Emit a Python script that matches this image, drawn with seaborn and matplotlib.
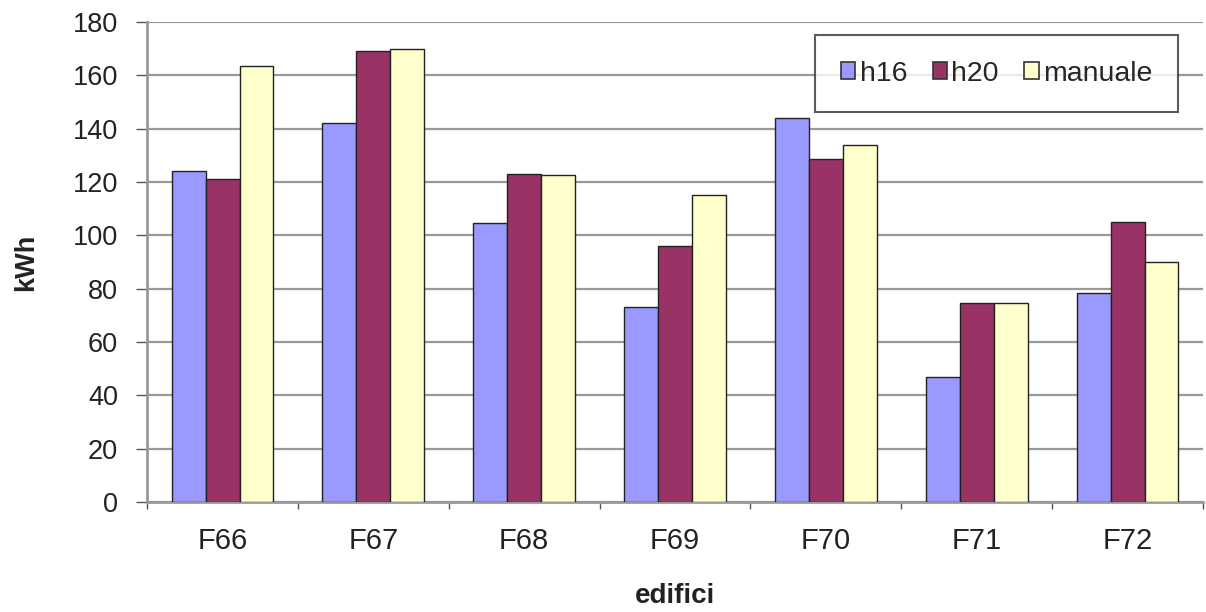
import pandas as pd
import matplotlib.pyplot as plt
import seaborn as sns
from matplotlib.patches import Patch
from matplotlib.ticker import FixedLocator

# Values (kWh per building)
edifici = ["F66", "F67", "F68", "F69", "F70", "F71", "F72"]
h16 = [124, 142, 104.5, 73, 144, 47, 78.5]
h20 = [121, 169, 123, 96, 128.5, 74.5, 105]
manuale = [163.5, 170, 122.5, 115, 134, 74.5, 90]
series = ["h16", "h20", "manuale"]
colors = ["#9999FF", "#993366", "#FFFFCC"]

df = pd.DataFrame({"edifici": edifici, "h16": h16, "h20": h20, "manuale": manuale})
df_long = df.melt(id_vars="edifici", var_name="serie", value_name="kWh")

sns.set_style("white")
plt.rcParams["font.family"] = ["Liberation Sans", "DejaVu Sans"]

fig = plt.figure(figsize=(12.06, 6.12), dpi=100)
ax = fig.add_axes([0.122, 0.18, 0.8755, 0.784])

sns.barplot(data=df_long, x="edifici", y="kWh", hue="serie", hue_order=series,
            palette=colors, width=0.675, edgecolor="#222222", linewidth=1.0,
            saturation=1, ax=ax, legend=False, zorder=3)

ax.set_ylim(0, 180)
ax.set_xlim(-0.5, len(edifici) - 0.5)
ax.set_yticks(range(0, 181, 20))
ax.yaxis.grid(True, color="#999999", linewidth=1.6, zorder=0)
ax.set_axisbelow(True)

for side in ["top", "right"]:
    ax.spines[side].set_visible(False)
ax.spines["left"].set_color("#999999")
ax.spines["left"].set_linewidth(2)
ax.spines["bottom"].set_color("#999999")
ax.spines["bottom"].set_linewidth(2)

ax.tick_params(axis="y", length=8, width=1, color="#555555", labelsize=19.5,
               labelcolor="#222222", pad=13, left=True)
ax.tick_params(axis="x", length=0, labelsize=21, labelcolor="#222222", pad=18)
ax.xaxis.set_minor_locator(FixedLocator([i + 0.5 for i in range(-1, len(edifici))]))
ax.tick_params(axis="x", which="minor", length=5, width=1, color="#555555", bottom=True)

ax.set_xlabel("edifici", fontsize=20, fontweight="bold", labelpad=20, color="#222222")
ax.set_ylabel("kWh", fontsize=19.5, fontweight="bold", labelpad=24, color="#222222")

handles = [Patch(facecolor=c, edgecolor="#333333", linewidth=1.2) for c in colors]
leg = ax.legend(handles, series, loc="upper left", bbox_to_anchor=(0.633, 0.973),
                ncol=3, fontsize=20.5, frameon=True, fancybox=False, borderpad=0.9,
                handlelength=0.5, handleheight=0.5, handletextpad=0.15,
                columnspacing=0.9, borderaxespad=0)
leg.get_frame().set_edgecolor("#333333")
leg.get_frame().set_linewidth(1.5)
leg.set_zorder(5)

fig.savefig("out.png", dpi=100)
